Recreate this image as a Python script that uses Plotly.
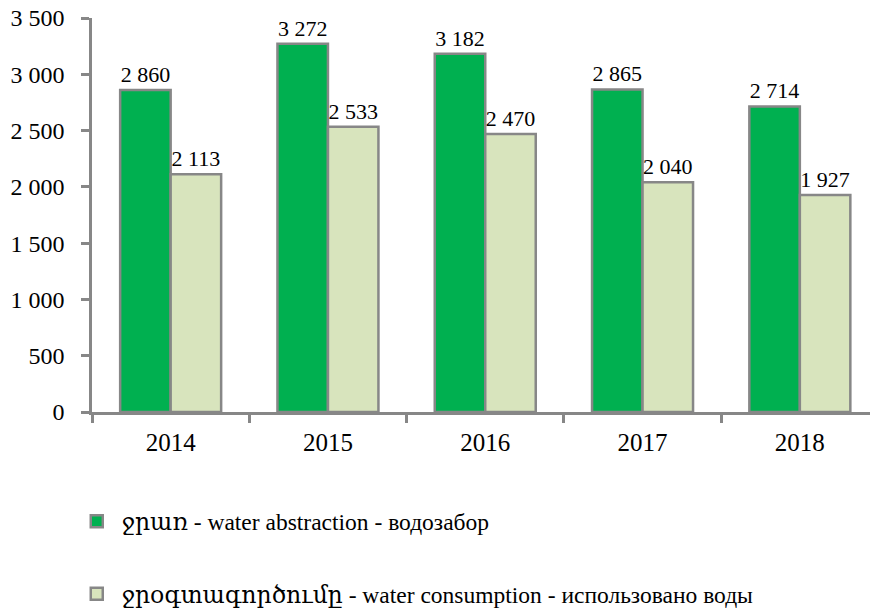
import plotly.graph_objects as go

years = ["2014", "2015", "2016", "2017", "2018"]
abstraction = [2860, 3272, 3182, 2865, 2714]
consumption = [2113, 2533, 2470, 2040, 1927]
y_ticks = [0, 500, 1000, 1500, 2000, 2500, 3000, 3500]
series_names = [
    "ջրառ - water abstraction - водозабор",
    "ջրօգտագործումը - water consumption - использовано воды",
]

FONT = '"Liberation Serif", "DejaVu Serif", serif'
GREY = "#878787"
GREEN = "#00B050"
LIGHT = "#D8E4BD"

fig = go.Figure()
for vals, name, col, grp in [
    (abstraction, series_names[0], GREEN, "a"),
    (consumption, series_names[1], LIGHT, "b"),
]:
    fig.add_bar(
        x=years, y=vals, name=name, legendgroup=grp,
        marker=dict(color=col, line=dict(color=GREY, width=2.5)),
        texttemplate="%{y:,}", textposition="outside",
        textfont=dict(family=FONT, size=22, color="black"),
        constraintext="none", cliponaxis=False,
    )

fig.update_layout(
    width=870, height=615,
    margin=dict(l=92, r=0, t=18, b=203, autoexpand=False),
    separators=". ",
    barmode="group", bargap=0.358, bargroupgap=0,
    plot_bgcolor="white", paper_bgcolor="white",
    font=dict(family=FONT, color="black"),
    showlegend=True,
    legend=dict(
        orientation="v", x=-0.026, y=-0.222, xanchor="left", yanchor="top",
        tracegroupgap=39, itemwidth=40,
        font=dict(family=FONT, size=23.5, color="black"),
        bgcolor="rgba(0,0,0,0)",
    ),
)
fig.update_xaxes(
    type="category", range=[-0.5, 4.446],
    tickson="boundaries", ticks="outside", ticklen=8, tickwidth=2.5, tickcolor=GREY,
    showline=True, linecolor=GREY, linewidth=2.5, showgrid=False,
    tickfont=dict(family=FONT, size=25, color="black"),
    ticklabelstandoff=6,
)
fig.update_yaxes(
    range=[0, 3500], tickvals=y_ticks, tickformat=",d",
    ticks="outside", ticklen=8, tickwidth=2.5, tickcolor=GREY,
    showline=True, linecolor=GREY, linewidth=2.5, showgrid=False, zeroline=False,
    tickfont=dict(family=FONT, size=24, color="black"),
    ticklabelstandoff=12,
)

fig.write_html(
    "out.html",
    config={"displayModeBar": False},
    post_script="document.body.style.margin='0px';",
)
